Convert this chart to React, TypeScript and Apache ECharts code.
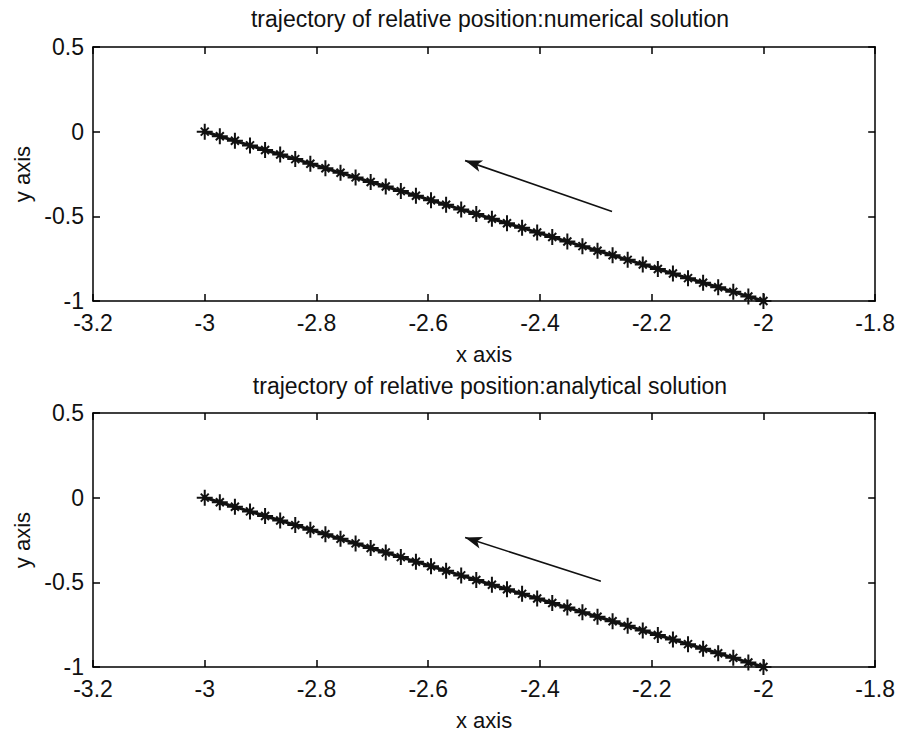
import React, { useEffect, useRef } from "react";
import * as echarts from "echarts";

const titles = [
  "trajectory of relative position:numerical solution",
  "trajectory of relative position:analytical solution",
];
const xAxisName = "x axis";
const yAxisName = "y axis";

// numerical solution
const numX = [
  -3.0, -2.973, -2.946, -2.919, -2.892, -2.865, -2.838, -2.811, -2.784, -2.757,
  -2.73, -2.703, -2.676, -2.649, -2.622, -2.595, -2.568, -2.541, -2.514, -2.486,
  -2.459, -2.432, -2.405, -2.378, -2.351, -2.324, -2.297, -2.27, -2.243, -2.216,
  -2.189, -2.162, -2.135, -2.108, -2.081, -2.054, -2.027, -2.0,
];
const numY = [
  0.0, -0.027, -0.054, -0.081, -0.108, -0.135, -0.162, -0.189, -0.216, -0.243,
  -0.27, -0.297, -0.324, -0.351, -0.378, -0.405, -0.432, -0.459, -0.486, -0.514,
  -0.541, -0.568, -0.595, -0.622, -0.649, -0.676, -0.703, -0.73, -0.757, -0.784,
  -0.811, -0.838, -0.865, -0.892, -0.919, -0.946, -0.973, -1.0,
];
// analytical solution
const anaX = [
  -3.0, -2.973, -2.946, -2.919, -2.892, -2.865, -2.838, -2.811, -2.784, -2.757,
  -2.73, -2.703, -2.676, -2.649, -2.622, -2.595, -2.568, -2.541, -2.514, -2.486,
  -2.459, -2.432, -2.405, -2.378, -2.351, -2.324, -2.297, -2.27, -2.243, -2.216,
  -2.189, -2.162, -2.135, -2.108, -2.081, -2.054, -2.027, -2.0,
];
const anaY = [
  0.0, -0.027, -0.054, -0.081, -0.108, -0.135, -0.162, -0.189, -0.216, -0.243,
  -0.27, -0.297, -0.324, -0.351, -0.378, -0.405, -0.432, -0.459, -0.486, -0.514,
  -0.541, -0.568, -0.595, -0.622, -0.649, -0.676, -0.703, -0.73, -0.757, -0.784,
  -0.811, -0.838, -0.865, -0.892, -0.919, -0.946, -0.973, -1.0,
];
// direction arrows: [tail, head]
const numArrow = [[-2.271, -0.471], [-2.534, -0.171]];
const anaArrow = [[-2.291, -0.494], [-2.534, -0.235]];

const xMin = -3.2, xMax = -1.8, xStep = 0.2;
const yMin = -1, yMax = 0.5, yStep = 0.5;

const FONT = "Liberation Sans";
const ASTERISK = "path://M0,-7L0,7M-7,0L7,0M-3.5,-3.5L3.5,3.5M-3.5,3.5L3.5,-3.5";

export default function App() {
  const ref = useRef<HTMLDivElement>(null);
  useEffect(() => {
    if (!ref.current) return;
    const chart = echarts.init(ref.current, null, { renderer: "svg" });
    const grids = [
      { left: 93, top: 47, width: 784, height: 254 },
      { left: 93, top: 413, width: 784, height: 254 },
    ];
    const lineCommon = { onZero: false, lineStyle: { color: "#000", width: 1.5 } };
    const tickCommon = { inside: true, length: 7, lineStyle: { color: "#000", width: 1.5 } };
    const xAxes: any[] = [];
    const yAxes: any[] = [];
    grids.forEach((_, i) => {
      xAxes.push({
        type: "value", gridIndex: i, min: xMin, max: xMax, interval: xStep,
        position: "bottom",
        name: xAxisName, nameLocation: "middle", nameGap: 42,
        nameTextStyle: { fontFamily: FONT, fontSize: 22, color: "#111" },
        axisLine: lineCommon,
        axisTick: tickCommon,
        axisLabel: {
          fontFamily: FONT, fontSize: 23, color: "#111", margin: 10,
          formatter: (v: number) => String(Math.round(v * 10) / 10),
        },
        splitLine: { show: false },
      });
      xAxes.push({
        type: "value", gridIndex: i, min: xMin, max: xMax, interval: xStep,
        position: "top",
        axisLine: lineCommon,
        axisTick: tickCommon,
        axisLabel: { show: false },
        splitLine: { show: false },
      });
      yAxes.push({
        type: "value", gridIndex: i, min: yMin, max: yMax, interval: yStep,
        position: "left",
        name: yAxisName, nameLocation: "middle", nameGap: 56,
        nameTextStyle: { fontFamily: FONT, fontSize: 22, color: "#111" },
        axisLine: lineCommon,
        axisTick: tickCommon,
        axisLabel: { fontFamily: FONT, fontSize: 23, color: "#111", margin: 9, lineHeight: 20 },
        splitLine: { show: false },
      });
      yAxes.push({
        type: "value", gridIndex: i, min: yMin, max: yMax, interval: yStep,
        position: "right",
        axisLine: lineCommon,
        axisTick: tickCommon,
        axisLabel: { show: false },
        splitLine: { show: false },
      });
    });
    const mkSeries = (xs: number[], ys: number[], arrow: number[][], i: number) => ({
      type: "line",
      xAxisIndex: i * 2,
      yAxisIndex: i * 2,
      data: xs.map((x, k) => [x, ys[k]]),
      symbol: ASTERISK,
      symbolSize: 16,
      symbolKeepAspect: true,
      showAllSymbol: true,
      itemStyle: { color: "#111", borderColor: "#111", borderWidth: 2 },
      lineStyle: { color: "#111", width: 3 },
      markLine: {
        silent: true,
        symbol: ["none", "arrow"],
        symbolSize: [9, 17],
        label: { show: false },
        lineStyle: { color: "#111", width: 1.6, type: "solid" },
        data: [[{ coord: arrow[0] }, { coord: arrow[1] }]],
      },
    });
    chart.setOption({
      animation: false,
      backgroundColor: "#fff",
      title: titles.map((t, i) => ({
        text: t,
        left: 485,
        textAlign: "center",
        top: i === 0 ? 2 : 369,
        textStyle: { fontFamily: FONT, fontSize: 23, fontWeight: "normal", color: "#111" },
      })),
      grid: grids.map((g) => ({ ...g, show: false })),
      xAxis: xAxes,
      yAxis: yAxes,
      series: [
        mkSeries(numX, numY, numArrow, 0),
        mkSeries(anaX, anaY, anaArrow, 1),
      ],
    });
    return () => chart.dispose();
  }, []);
  return (
    <div
      ref={ref}
      style={{ position: "absolute", left: 0, top: 0, width: 898, height: 733 }}
    />
  );
}
